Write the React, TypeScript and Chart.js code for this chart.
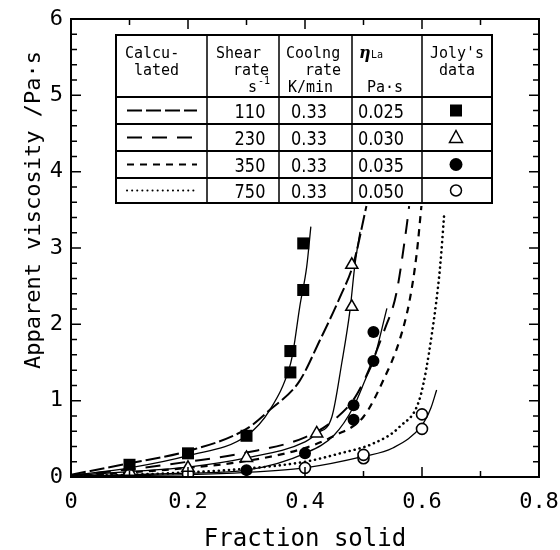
import React, { useEffect, useRef } from "react";
import { Chart, registerables } from "chart.js";
Chart.register(...registerables);

// ---------- tick labels ----------
const xTickLabels = ["0", "0.2", "0.4", "0.6", "0.8"];
const yTickLabels = ["0", "1", "2", "3", "4", "5", "6"];

// ---------- Joly's data (measured points) ----------
const sqX = [0.1, 0.2, 0.3, 0.375, 0.375, 0.397, 0.397];
const sqY = [0.16, 0.31, 0.54, 1.37, 1.65, 2.45, 3.06];
const triX = [0.1, 0.2, 0.3, 0.42, 0.48, 0.48];
const triY = [0.07, 0.12, 0.25, 0.57, 2.23, 2.78];
const dotX = [0.3, 0.4, 0.483, 0.483, 0.517, 0.517];
const dotY = [0.09, 0.31, 0.75, 0.94, 1.52, 1.9];
const ringX = [0.2, 0.4, 0.5, 0.5, 0.6, 0.6];
const ringY = [0.04, 0.12, 0.245, 0.29, 0.63, 0.82];

// ---------- thin solid curves through data ----------
const fit110X = [0, 0.1, 0.2, 0.3, 0.34, 0.374, 0.38, 0.391, 0.403, 0.41];
const fit110Y = [0.02, 0.12, 0.28, 0.54, 0.88, 1.45, 1.66, 2.23, 2.76, 3.28];
const fit230X = [0, 0.1, 0.2, 0.3, 0.4, 0.42, 0.446, 0.463, 0.477, 0.485, 0.494];
const fit230Y = [0.02, 0.07, 0.13, 0.25, 0.46, 0.57, 0.79, 1.5, 2.19, 2.76, 3.21];
const fit350X = [0, 0.1, 0.2, 0.3, 0.4, 0.45, 0.483, 0.505, 0.517, 0.54];
const fit350Y = [0.01, 0.03, 0.05, 0.09, 0.31, 0.55, 0.92, 1.31, 1.52, 2.21];
const fit750X = [0, 0.1, 0.2, 0.3, 0.4, 0.5, 0.55, 0.6, 0.615, 0.625];
const fit750Y = [0.01, 0.02, 0.03, 0.06, 0.12, 0.27, 0.38, 0.68, 0.9, 1.14];

// ---------- calculated curves ----------
const calc110X = [0, 0.1, 0.2, 0.3, 0.34, 0.39, 0.426, 0.46, 0.483, 0.505];
const calc110Y = [0.03, 0.18, 0.34, 0.63, 0.88, 1.25, 1.8, 2.36, 2.8, 3.55];
const calc230X = [0, 0.1, 0.2, 0.3, 0.4, 0.45, 0.49, 0.537, 0.556, 0.574, 0.578];
const calc230Y = [0.02, 0.1, 0.2, 0.32, 0.52, 0.75, 1.1, 1.95, 2.4, 3.3, 3.55];
const calc350X = [0, 0.1, 0.2, 0.3, 0.4, 0.45, 0.5, 0.534, 0.562, 0.579, 0.591, 0.599];
const calc350Y = [0.01, 0.06, 0.12, 0.21, 0.38, 0.54, 0.79, 1.27, 1.8, 2.32, 2.93, 3.55];
const calc750X = [0, 0.1, 0.2, 0.3, 0.4, 0.46, 0.517, 0.562, 0.597, 0.617, 0.631, 0.638];
const calc750Y = [0.01, 0.03, 0.06, 0.11, 0.2, 0.31, 0.44, 0.66, 1.05, 1.88, 2.76, 3.45];

// ---------- table contents ----------
const shearRates = ["110", "230", "350", "750"];
const coolingRates = ["0.33", "0.33", "0.33", "0.33"];
const etaLa = ["0.025", "0.030", "0.035", "0.050"];

const MONO = "'DejaVu Sans Mono', monospace";
const DASHES: number[][] = [[15, 4], [15, 10], [7, 6], [0.1, 5]];

const pts = (xs: number[], ys: number[]) => xs.map((x, i) => ({ x, y: ys[i] }));

function curve(xs: number[], ys: number[], dash: number[], width: number, round = false) {
  return {
    data: pts(xs, ys),
    showLine: true,
    pointRadius: 0,
    borderColor: "#000",
    borderWidth: width,
    borderDash: dash,
    borderCapStyle: round ? "round" : "butt",
    cubicInterpolationMode: "monotone",
    tension: 0.4,
    fill: false,
  };
}

function txt(ctx: CanvasRenderingContext2D, s: string, x: number, y: number, font: string, align: CanvasTextAlign = "left", sx = 1) {
  ctx.save();
  ctx.font = font;
  ctx.textAlign = align;
  ctx.textBaseline = "alphabetic";
  ctx.fillStyle = "#000";
  ctx.translate(x, y);
  ctx.scale(sx, 1);
  ctx.fillText(s, 0, 0);
  ctx.restore();
}

const decorPlugin = {
  id: "decor",
  afterDraw(chart: any) {
    const ctx: CanvasRenderingContext2D = chart.ctx;
    const xs = chart.scales.x;
    const ys = chart.scales.y;
    const { left, right, top, bottom } = chart.chartArea;
    ctx.save();
    ctx.strokeStyle = "#000";
    // frame
    ctx.lineWidth = 2;
    ctx.strokeRect(left, top, right - left, bottom - top);
    // inward ticks
    ctx.lineWidth = 1.5;
    ctx.beginPath();
    for (let i = 1; i < 8; i++) {
      const px = xs.getPixelForValue(i * 0.1);
      const len = i % 2 === 0 ? 10 : 6;
      ctx.moveTo(px, bottom);
      ctx.lineTo(px, bottom - len);
      ctx.moveTo(px, top);
      ctx.lineTo(px, top + len);
    }
    for (let j = 1; j < 30; j++) {
      const py = ys.getPixelForValue(j * 0.2);
      const len = j % 5 === 0 ? 10 : 6;
      ctx.moveTo(left, py);
      ctx.lineTo(left + len, py);
      ctx.moveTo(right, py);
      ctx.lineTo(right - len, py);
    }
    ctx.stroke();

    // axis titles
    txt(ctx, "Fraction solid", (left + right) / 2, 546, `24px ${MONO}`, "center");
    ctx.save();
    ctx.translate(40, 210);
    ctx.rotate(-Math.PI / 2);
    txt(ctx, "Apparent viscosity /Pa·s", 0, 0, `22px ${MONO}`, "center");
    ctx.restore();

    // table
    const tL = 116, tR = 492, tT = 35, tB = 203;
    const cols = [tL, 207, 279, 352, 422, tR];
    const rows = [tT, 97, 124, 151, 178, tB];
    ctx.fillStyle = "#fff";
    ctx.fillRect(tL, tT, tR - tL, tB - tT);
    ctx.lineWidth = 2;
    ctx.strokeRect(tL, tT, tR - tL, tB - tT);
    ctx.beginPath();
    for (let r = 1; r < rows.length - 1; r++) {
      ctx.moveTo(tL, rows[r]);
      ctx.lineTo(tR, rows[r]);
    }
    ctx.stroke();
    ctx.lineWidth = 1.5;
    ctx.beginPath();
    for (let c = 1; c < cols.length - 1; c++) {
      ctx.moveTo(cols[c], tT);
      ctx.lineTo(cols[c], tB);
    }
    ctx.stroke();

    const hf = `15px ${MONO}`;
    const sf = `10px ${MONO}`;
    txt(ctx, "Calcu-", 125, 58, hf);
    txt(ctx, "lated", 134, 75, hf);
    txt(ctx, "Shear", 216, 58, hf);
    txt(ctx, "rate", 269, 75, hf, "right");
    txt(ctx, "s", 248, 92, hf);
    txt(ctx, "-1", 258, 84, sf);
    txt(ctx, "Coolng", 286, 58, hf);
    txt(ctx, "rate", 341, 75, hf, "right");
    txt(ctx, "K/min", 288, 92, hf);
    txt(ctx, "η", 359, 58, `italic bold 16px 'DejaVu Serif', serif`);
    txt(ctx, "La", 371, 58, `10px ${MONO}`);
    txt(ctx, "Pa·s", 367, 92, hf);
    txt(ctx, "Joly's", 457, 58, hf, "center");
    txt(ctx, "data", 457, 75, hf, "center");

    const vf = `19px 'DejaVu Sans', sans-serif`;
    for (let r = 0; r < 4; r++) {
      const cy = (rows[r + 1] + rows[r + 2]) / 2;
      const by = cy + 7;
      txt(ctx, shearRates[r], 250, by, vf, "center", 0.85);
      txt(ctx, coolingRates[r], 309, by, vf, "center", 0.85);
      txt(ctx, etaLa[r], 381, by, vf, "center", 0.85);
      // legend line sample
      ctx.save();
      ctx.strokeStyle = "#000";
      ctx.lineWidth = r === 3 ? 2 : 1.8;
      ctx.lineCap = r === 3 ? "round" : "butt";
      ctx.setLineDash(DASHES[r]);
      ctx.beginPath();
      ctx.moveTo(127, cy);
      ctx.lineTo(197, cy);
      ctx.stroke();
      ctx.restore();
      // markers
      const mx = 456;
      ctx.save();
      ctx.fillStyle = "#000";
      ctx.strokeStyle = "#000";
      ctx.lineWidth = 1.5;
      if (r === 0) {
        ctx.fillRect(mx - 6, cy - 6, 12, 12);
      } else if (r === 1) {
        ctx.fillStyle = "#fff";
        ctx.beginPath();
        ctx.moveTo(mx, cy - 7);
        ctx.lineTo(mx + 6.5, cy + 5);
        ctx.lineTo(mx - 6.5, cy + 5);
        ctx.closePath();
        ctx.fill();
        ctx.stroke();
      } else if (r === 2) {
        ctx.beginPath();
        ctx.arc(mx, cy, 6.5, 0, Math.PI * 2);
        ctx.fill();
      } else {
        ctx.fillStyle = "#fff";
        ctx.beginPath();
        ctx.arc(mx, cy, 5.5, 0, Math.PI * 2);
        ctx.fill();
        ctx.stroke();
      }
      ctx.restore();
    }
    ctx.restore();
  },
};

export default function App() {
  const ref = useRef<HTMLCanvasElement | null>(null);
  useEffect(() => {
    if (!ref.current) return;
    const chart = new Chart(ref.current, {
      type: "scatter",
      data: {
        datasets: [
          { data: pts(sqX, sqY), pointStyle: "rect", pointRadius: 8.5, backgroundColor: "#000", borderColor: "#000", borderWidth: 0 },
          { data: pts(triX, triY), pointStyle: "triangle", pointRadius: 7, backgroundColor: "#fff", borderColor: "#000", borderWidth: 1.5 },
          { data: pts(dotX, dotY), pointStyle: "circle", pointRadius: 6, backgroundColor: "#000", borderColor: "#000", borderWidth: 0 },
          { data: pts(ringX, ringY), pointStyle: "circle", pointRadius: 5.5, backgroundColor: "#fff", borderColor: "#000", borderWidth: 1.6 },
          curve(fit110X, fit110Y, [], 1.3),
          curve(fit230X, fit230Y, [], 1.3),
          curve(fit350X, fit350Y, [], 1.3),
          curve(fit750X, fit750Y, [], 1.3),
          curve(calc110X, calc110Y, DASHES[0], 2),
          curve(calc230X, calc230Y, DASHES[1], 2),
          curve(calc350X, calc350Y, DASHES[2], 2.2),
          curve(calc750X, calc750Y, DASHES[3], 2.6, true),
        ] as any,
      },
      options: {
        responsive: false,
        animation: false,
        events: [],
        layout: { padding: { left: 0, top: 19, right: 21, bottom: 0 } },
        plugins: { legend: { display: false }, tooltip: { enabled: false } },
        scales: {
          x: {
            type: "linear",
            min: 0,
            max: 0.8,
            grid: { display: false, drawTicks: false },
            border: { display: true, color: "#000", width: 2 },
            ticks: {
              stepSize: 0.2,
              padding: 12,
              color: "#000",
              font: { family: MONO, size: 22 },
              callback: (_v: any, i: number) => xTickLabels[i],
            },
            afterFit: (s: any) => { s.height = 73; s.paddingLeft = 0; s.paddingRight = 0; },
          },
          y: {
            type: "linear",
            min: 0,
            max: 6,
            grid: { display: false, drawTicks: false },
            border: { display: true, color: "#000", width: 2 },
            ticks: {
              stepSize: 1,
              padding: 8,
              color: "#000",
              font: { family: MONO, size: 22 },
              callback: (_v: any, i: number) => yTickLabels[i],
            },
            afterFit: (s: any) => { s.width = 71; s.paddingTop = 0; s.paddingBottom = 0; },
          },
        },
      } as any,
      plugins: [decorPlugin],
    });
    return () => chart.destroy();
  }, []);
  return (
    <div style={{ position: "absolute", left: 0, top: 0, width: 560, height: 550, background: "#fff" }}>
      <canvas ref={ref} width={560} height={550} style={{ display: "block" }} />
    </div>
  );
}
